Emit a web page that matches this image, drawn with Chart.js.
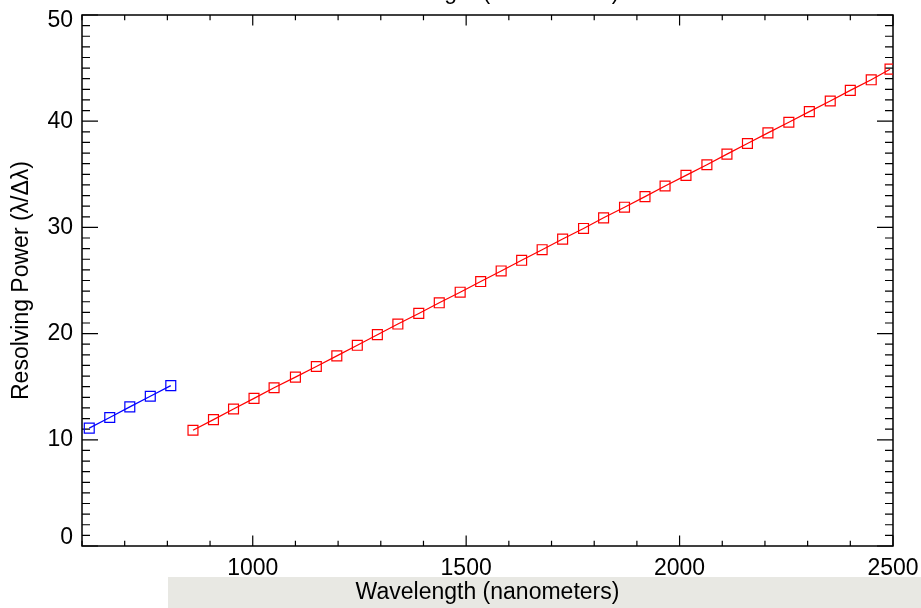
<!DOCTYPE html>
<html>
<head>
<meta charset="utf-8">
<script src="https://cdn.jsdelivr.net/npm/chart.js@4.4.0/dist/chart.umd.min.js"></script>
<style>
  html, body { margin: 0; padding: 0; background: #fff; }
  #wrap { width: 921px; height: 608px; position: relative; }
</style>
</head>
<body>
<div id="wrap"><canvas id="rpChart" width="921" height="608"></canvas></div>
<script>
// Resolving power per wavelength, two grating settings
const blueWave  = [617, 665, 712, 760, 808];
const bluePower = [11.1, 12.1, 13.1, 14.1, 15.1];

const redWave = [860, 908, 955, 1003, 1050, 1100, 1149, 1197, 1245, 1292,
                 1340, 1389, 1437, 1486, 1534, 1582, 1630, 1678, 1726, 1775,
                 1822, 1871, 1919, 1966, 2015, 2064, 2111, 2159, 2207, 2256,
                 2304, 2353, 2400, 2449, 2493];
const redPower = [10.9, 11.9, 12.9, 13.9, 14.9, 15.9, 16.9, 17.9, 18.9, 19.9,
                  20.9, 21.9, 22.9, 23.9, 24.9, 25.9, 26.9, 27.9, 28.9, 29.9,
                  30.9, 31.9, 32.9, 33.9, 34.9, 35.9, 36.9, 37.9, 38.9, 39.9,
                  40.9, 41.9, 42.9, 43.9, 44.9];

const xTickValues = [1000, 1500, 2000, 2500];
const yTickValues = [0, 10, 20, 30, 40, 50];

const xLabel = 'Wavelength (nanometers)';
const yLabel = 'Resolving Power (\u03BB/\u0394\u03BB)';

const FONT = '"Liberation Sans", Arial, Helvetica, sans-serif';

function toPoints(xs, ys) {
    return xs.map((x, i) => ({ x: x, y: ys[i] }));
}

// IDL-style boxed axes with inward ticks on all four sides
const idlFrame = {
    id: 'idlFrame',
    beforeDatasetsDraw(chart) {
        const { ctx, chartArea: a, scales } = chart;
        const xs = scales.x, ys = scales.y;
        ctx.save();
        ctx.strokeStyle = '#000';
        ctx.lineWidth = 1.5;
        ctx.strokeRect(a.left, a.top, a.right - a.left, a.bottom - a.top);

        ctx.lineWidth = 1.2;
        ctx.beginPath();
        for (let v = xs.min; v <= xs.max; v += 100) {
            const px = xs.getPixelForValue(v);
            const len = (v % 500 === 0) ? 10.6 : 5.3;
            ctx.moveTo(px, a.bottom); ctx.lineTo(px, a.bottom - len);
            ctx.moveTo(px, a.top);    ctx.lineTo(px, a.top + len);
        }
        for (let v = Math.ceil(ys.min); v <= ys.max; v += 1) {
            const py = ys.getPixelForValue(v);
            const len = (v % 10 === 0) ? 16 : 8;
            ctx.moveTo(a.left, py);  ctx.lineTo(a.left + len, py);
            ctx.moveTo(a.right, py); ctx.lineTo(a.right - len, py);
        }
        ctx.stroke();

        // y tick labels, end labels kept inside the frame height
        ctx.fillStyle = '#000';
        ctx.font = '23px ' + FONT;
        ctx.textAlign = 'right';
        ctx.textBaseline = 'middle';
        yTickValues.forEach(v => {
            let py = ys.getPixelForValue(v);
            py = Math.min(Math.max(py, a.top + 6), a.bottom - 8);
            ctx.fillText(String(v), a.left - 9, py);
        });
        ctx.restore();
    },
    afterDraw(chart) {
        const { ctx, chartArea: a } = chart;
        const cx = (a.left + a.right) / 2;
        ctx.save();
        // band behind the x axis title
        ctx.fillStyle = '#e8e8e3';
        ctx.fillRect(168, 577, 921 - 168, 31);

        ctx.fillStyle = '#000';
        ctx.font = '23px ' + FONT;
        ctx.textAlign = 'center';
        ctx.textBaseline = 'middle';
        ctx.fillText(xLabel, cx, 593);

        // header line running off the top edge
        ctx.textBaseline = 'alphabetic';
        ctx.fillText(xLabel, cx, -1);

        ctx.translate(22, (a.top + a.bottom) / 2);
        ctx.rotate(-Math.PI / 2);
        ctx.textBaseline = 'middle';
        ctx.fillText(yLabel, 0, 0);
        ctx.restore();
    }
};

// invisible tick marks only reserve room between the axis and its labels
function hiddenTicks(len) {
    return {
        display: true,
        drawOnChartArea: false,
        drawTicks: true,
        tickLength: len,
        color: 'rgba(0,0,0,0)'
    };
}

new Chart(document.getElementById('rpChart'), {
    type: 'line',
    data: {
        datasets: [
            {
                data: toPoints(blueWave, bluePower),
                borderColor: '#0000ff',
                pointBorderColor: '#0000ff'
            },
            {
                data: toPoints(redWave, redPower),
                borderColor: '#ff0000',
                pointBorderColor: '#ff0000'
            }
        ]
    },
    options: {
        responsive: false,
        animation: false,
        devicePixelRatio: 1,
        layout: { padding: { top: 15, right: 28, left: 0, bottom: 0 } },
        elements: {
            line: { borderWidth: 1.2, tension: 0 },
            point: {
                pointStyle: 'rect',
                radius: 7,
                borderWidth: 1.2,
                backgroundColor: 'rgba(0,0,0,0)'
            }
        },
        plugins: {
            legend: { display: false },
            tooltip: { enabled: false }
        },
        scales: {
            x: {
                type: 'linear',
                min: 600,
                max: 2500,
                grid: hiddenTicks(7),
                border: { display: false },
                ticks: {
                    color: '#000',
                    font: { family: FONT, size: 23 },
                    padding: 2,
                    maxRotation: 0,
                    autoSkip: false,
                    callback: v => String(v)
                },
                afterBuildTicks(scale) {
                    scale.ticks = xTickValues.map(v => ({ value: v }));
                },
                afterFit(scale) { scale.height = 62; }
            },
            y: {
                type: 'linear',
                min: 0,
                max: 50,
                grid: { display: false },
                border: { display: false },
                ticks: { display: false },
                afterBuildTicks(scale) {
                    scale.ticks = yTickValues.map(v => ({ value: v }));
                },
                afterFit(scale) { scale.width = 82; }
            }
        }
    },
    plugins: [idlFrame]
});
</script>
</body>
</html>
